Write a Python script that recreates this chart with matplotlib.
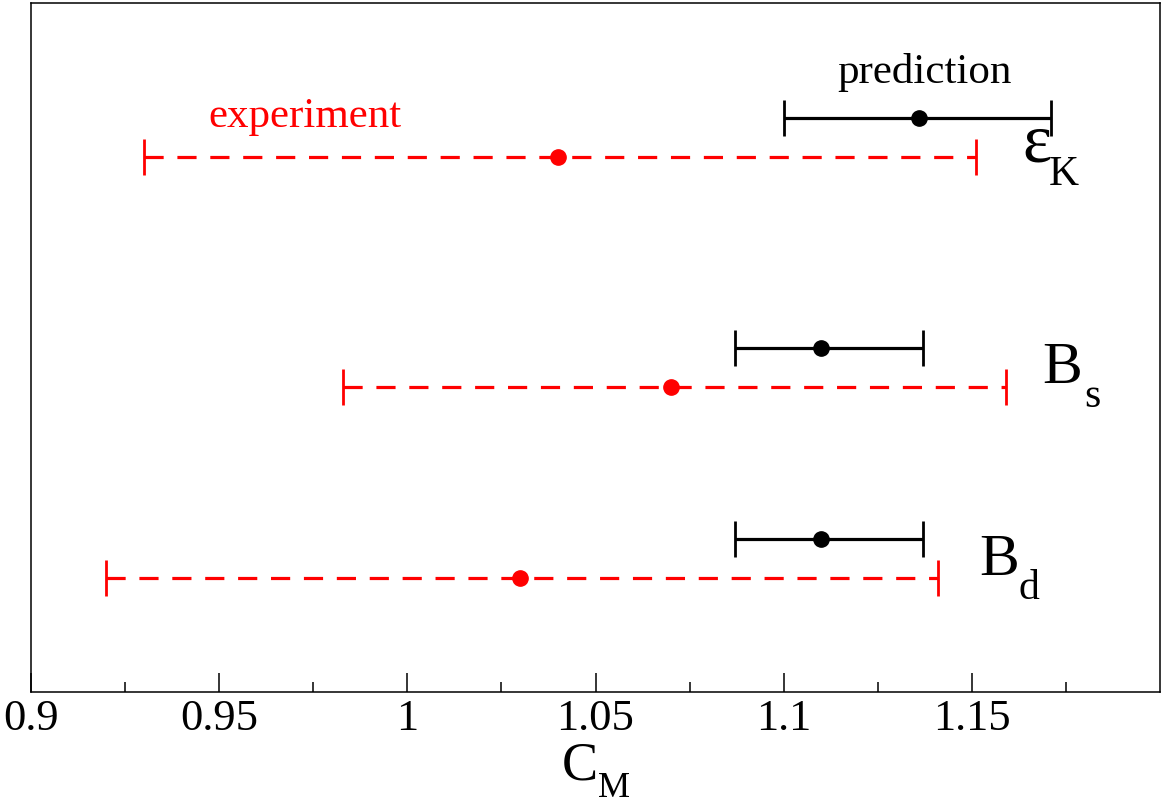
import matplotlib
matplotlib.use("Agg")
import matplotlib.pyplot as plt
import numpy as np

plt.rcParams['font.family'] = 'Liberation Serif'

# observables (top to bottom): symbol and subscript
obs_main = ['\u03b5', 'B', 'B']
obs_sub = ['K', 's', 'd']

# prediction: centre, lower, upper
pred_c = [1.136, 1.110, 1.110]
pred_lo = [1.100, 1.087, 1.087]
pred_hi = [1.171, 1.137, 1.137]

# experiment: centre, lower, upper
exp_c = [1.040, 1.070, 1.030]
exp_lo = [0.930, 0.983, 0.920]
exp_hi = [1.151, 1.159, 1.141]

# vertical positions (data units)
pred_y = [5.0, 3.0, 1.33]
exp_y = [4.66, 2.66, 0.99]

W, H = 1167, 807
fig = plt.figure(figsize=(W / 100, H / 100), dpi=100)
ax = fig.add_axes([0.0266, 0.1425, 0.9674, 0.8535])

pc = np.array(pred_c)
ec = np.array(exp_c)
ax.errorbar(pc, pred_y, xerr=[pc - np.array(pred_lo), np.array(pred_hi) - pc],
            fmt='o', color='black', ms=11, lw=2.3, capsize=13, capthick=2.0)
eb = ax.errorbar(ec, exp_y, xerr=[ec - np.array(exp_lo), np.array(exp_hi) - ec],
                 fmt='o', color='red', ms=11, lw=2.3, capsize=13, capthick=2.0)
eb[2][0].set_linestyle((0, (6, 4.3)))


def ptext(px, py, s, **kw):
    # place text by pixel position measured from the top-left corner
    fig.text(px / W, 1 - py / H, s, va='baseline', ha='left', **kw)


ptext(837, 83, 'prediction', fontsize=31)
ptext(208, 127, 'experiment', fontsize=31, color='red')

# observable labels
main_pos = [(1022, 161), (1042, 383), (979, 575)]
sub_pos = [(1049, 185), (1084, 407), (1019, 599)]
main_size = [50, 43, 43]
for m, s, (mx, my), (sx, sy), fs in zip(obs_main, obs_sub, main_pos, sub_pos, main_size):
    ptext(mx, my, m, fontsize=fs)
    ptext(sx, sy, s, fontsize=30)

ax.set_xlim(0.9, 1.2)
ax.set_ylim(0, 6)
ax.set_xticks([0.9, 0.95, 1.0, 1.05, 1.1, 1.15])
ax.set_xticklabels(['0.9', '0.95', '1', '1.05', '1.1', '1.15'])
ax.set_xticks(np.arange(0.925, 1.2, 0.05), minor=True)
ax.set_yticks([])
ax.tick_params(axis='x', which='major', direction='in', length=14, width=1.1,
               labelsize=32, pad=5)
ax.tick_params(axis='x', which='minor', direction='in', length=7, width=1.1)
for sp in ax.spines.values():
    sp.set_linewidth(1.1)

# axis label C_M
ptext(562, 780, 'C', fontsize=39)
ptext(598, 797, 'M', fontsize=26)

fig.savefig('out.png', dpi=100)
